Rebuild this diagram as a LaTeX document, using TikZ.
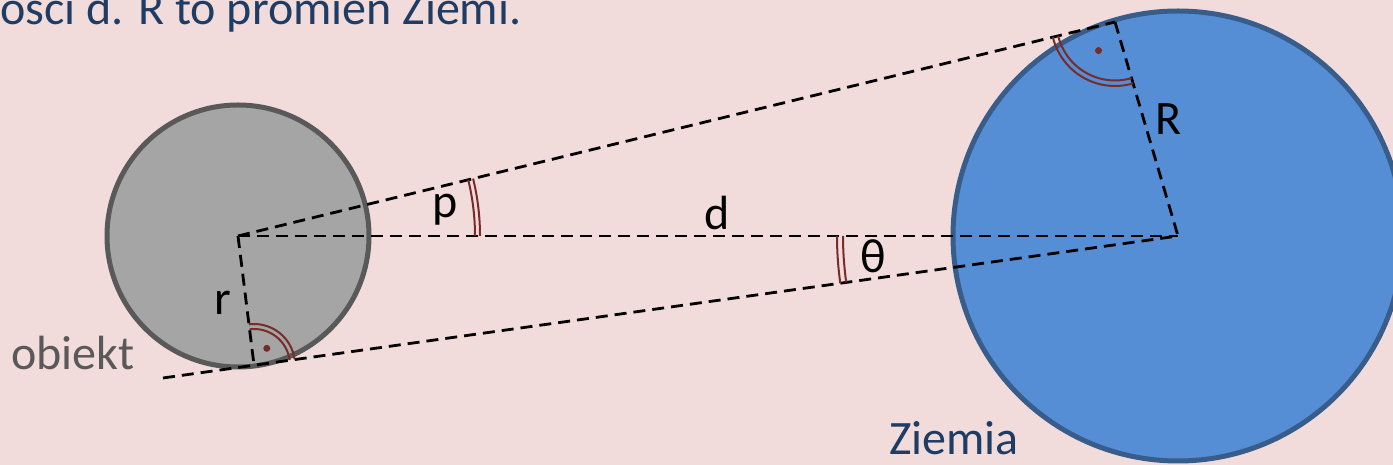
\documentclass[tikz,border=0pt]{standalone}
\usepackage{fontspec}
\setmainfont{Carlito}
\usetikzlibrary{calc}
\definecolor{bgpink}{HTML}{F2DCDB}
\definecolor{grayfill}{HTML}{A5A5A5}
\definecolor{grayline}{HTML}{595959}
\definecolor{bluefill}{HTML}{558ED5}
\definecolor{blueline}{HTML}{385D8A}
\definecolor{navytext}{HTML}{1F3D64}
\definecolor{arcred}{HTML}{772C2A}
\tikzset{
  dashline/.style={black, line width=2.8pt, dash pattern=on 12pt off 7pt},
  anglearc/.style={arcred, line width=2pt},
  lbl/.style={font=\fontsize{48}{56}\selectfont, inner sep=0pt, anchor=base},
  ball/.style={circle, inner sep=0pt, line width=5pt}
}
\begin{document}
\begin{tikzpicture}[x=1pt,y=1pt]
\useasboundingbox (0,0) rectangle (1393,465);
\fill[bgpink] (0,0) rectangle (1393,465);
\clip (0,0) rectangle (1393,465);
% centres and points
\coordinate (G) at (238,229);
\coordinate (E) at (1178,229);
\coordinate (T1) at (1115,443);
\coordinate (T2) at (254,100);
\coordinate (L) at (163,87);
% bodies
\node[ball, draw=grayline, fill=grayfill, minimum size=262pt] (obj) at (G) {};
\node[ball, draw=blueline, fill=bluefill, minimum size=450pt] (earth) at (E) {};
% dashed construction lines
\draw[dashline] (G) -- (T1);
\draw[dashline] (T1) -- (E);
\draw[dashline] (G) -- (E);
\draw[dashline] (L) -- (E);
\draw[dashline] (G) -- (T2);
% right angle marks
\draw[anglearc] ($(T1)+(193.71:58.5)$) arc[start angle=193.71, end angle=286.4, radius=58.5];
\draw[anglearc] ($(T1)+(193.71:64)$) arc[start angle=193.71, end angle=286.4, radius=64];
\fill[arcred] ($(T1)+(240:33)$) circle (3.5pt);
\draw[anglearc] ($(T2)+(7.95:36)$) arc[start angle=7.95, end angle=97.07, radius=36];
\draw[anglearc] ($(T2)+(7.95:41)$) arc[start angle=7.95, end angle=97.07, radius=41];
\fill[arcred] ($(T2)+(52.5:21)$) circle (3.5pt);
% angle p
\draw[anglearc] ($(G)+(0:237)$) arc[start angle=0, end angle=13.71, radius=237];
\draw[anglearc] ($(G)+(0:242)$) arc[start angle=0, end angle=13.71, radius=242];
% angle theta
\draw[anglearc] ($(E)+(180:335)$) arc[start angle=180, end angle=187.96, radius=335];
\draw[anglearc] ($(E)+(180:341)$) arc[start angle=180, end angle=187.96, radius=341];
% labels
\node[lbl] (lp) at (445,247) {p};
\node[lbl] (ld) at (717,235) {d};
\node[lbl] (lth) at (873,192) {θ};
\node[lbl] (lR) at (1169,330) {R};
\node[lbl] (lr) at (223,150) {r};
\node[lbl, anchor=base west, text=grayline] (lobj) at (11,95) {obiekt};
\node[lbl, anchor=base west, text=navytext] (lziem) at (889,10) {Ziemia};
\node[lbl, anchor=base west, text=navytext] (ltop) at (0,440) {ości d. R to promień Ziemi.};
\end{tikzpicture}
\end{document}
